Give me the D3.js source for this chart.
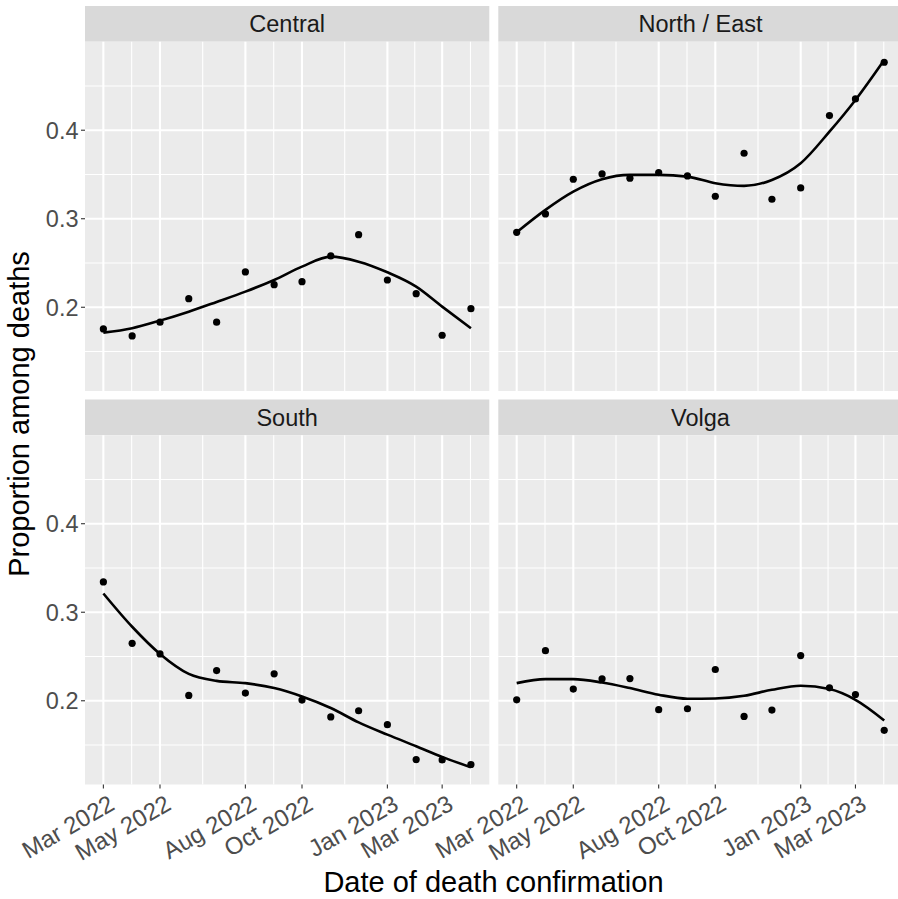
<!DOCTYPE html>
<html>
<head>
<meta charset="utf-8">
<script src="https://cdn.jsdelivr.net/npm/d3@7/dist/d3.min.js"></script>
<style>
  html, body { margin: 0; padding: 0; background: #ffffff; }
  svg { display: block; }
  text { font-family: "Liberation Sans", Arial, Helvetica, sans-serif; }
</style>
</head>
<body>
<svg id="chart" width="898" height="899"></svg>
<script>
// ---------------- DATA ----------------
const months = ["2022-03-01","2022-04-01","2022-05-01","2022-06-01","2022-07-01","2022-08-01","2022-09-01",
                "2022-10-01","2022-11-01","2022-12-01","2023-01-01","2023-02-01","2023-03-01","2023-04-01"];

const regions = ["Central", "North / East", "South", "Volga"];

const centralValues   = [0.1755,0.1676,0.1831,0.2097,0.1831,0.2399,0.2255,0.2289,0.2580,0.2820,0.2308,0.2154,0.1684,0.1984];
const northEastValues = [0.2847,0.3054,0.3446,0.3506,0.3458,0.3521,0.3484,0.3254,0.3740,0.3220,0.3348,0.4165,0.4354,0.4768];
const southValues     = [0.3343,0.2649,0.2529,0.2060,0.2341,0.2087,0.2304,0.2008,0.1817,0.1887,0.1730,0.1336,0.1332,0.1280];
const volgaValues     = [0.2011,0.2566,0.2132,0.2248,0.2251,0.1899,0.1910,0.2353,0.1823,0.1895,0.2510,0.2146,0.2071,0.1666];

// smoothed (loess) trend, one value per month
const centralSmooth   = [0.1713,0.1763,0.1849,0.1950,0.2060,0.2177,0.2308,0.2459,0.2572,0.2515,0.2395,0.2233,0.2007,0.1763];
const northEastSmooth = [0.2847,0.3100,0.3306,0.3446,0.3495,0.3495,0.3476,0.3401,0.3371,0.3438,0.3627,0.3984,0.4342,0.4794];
const southSmooth     = [0.3212,0.2836,0.2529,0.2304,0.2225,0.2199,0.2143,0.2048,0.1918,0.1756,0.1617,0.1486,0.1366,0.1249];
const volgaSmooth     = [0.2199,0.2244,0.2244,0.2206,0.2143,0.2068,0.2023,0.2026,0.2056,0.2124,0.2169,0.2132,0.2011,0.1778];

const xTickDates  = ["2022-03-01","2022-05-01","2022-08-01","2022-10-01","2023-01-01","2023-03-01"];
const xTickLabels = ["Mar 2022","May 2022","Aug 2022","Oct 2022","Jan 2023","Mar 2023"];
const xMinorDates = ["2022-03-31T12:00","2022-06-16","2022-08-31T12:00","2022-11-16","2023-01-30T12:00","2023-03-31T12:00"];

const yTicks      = [0.2, 0.3, 0.4];
const yTickLabels = ["0.2", "0.3", "0.4"];
const yMinor      = [0.15, 0.25, 0.35, 0.45];
const yLimits     = [0.1054, 0.5];

const xTitle = "Date of death confirmation";
const yTitle = "Proportion among deaths";

// ---------------- LAYOUT ----------------
const parse = s => new Date(s + (s.length === 10 ? "T00:00:00Z" : ":00Z"));
const dates = months.map(parse);

const panelW = 404.3, panelH = 349.3, stripH = 35.7;
const colX = [85, 498.3];
const rowY = [6, 399.5];   // strip tops

const series = [
  {name: regions[0], vals: centralValues,   smooth: centralSmooth,   col: 0, row: 0},
  {name: regions[1], vals: northEastValues, smooth: northEastSmooth, col: 1, row: 0},
  {name: regions[2], vals: southValues,     smooth: southSmooth,     col: 0, row: 1},
  {name: regions[3], vals: volgaValues,     smooth: volgaSmooth,     col: 1, row: 1}
];

// x domain with 5% expansion like ggplot
const t0 = d3.min(dates).getTime(), t1 = d3.max(dates).getTime();
const pad = (t1 - t0) * 0.05;
const x = d3.scaleUtc().domain([new Date(t0 - pad), new Date(t1 + pad)]).range([0, panelW]);
const y = d3.scaleLinear().domain(yLimits).range([panelH, 0]);

const svg = d3.select("#chart");
const tickFont = 23.5, titleFont = 29;

series.forEach(s => {
  const px = colX[s.col], sy = rowY[s.row], py = sy + stripH;
  // strip
  svg.append("rect").attr("x", px).attr("y", sy).attr("width", panelW).attr("height", stripH).attr("fill", "#D9D9D9");
  svg.append("text").attr("x", px + panelW / 2).attr("y", sy + stripH / 2).attr("dy", "0.36em")
    .attr("text-anchor", "middle").attr("font-size", tickFont).attr("fill", "#1A1A1A").text(s.name);

  const g = svg.append("g").attr("transform", `translate(${px},${py})`);
  g.append("rect").attr("width", panelW).attr("height", panelH).attr("fill", "#EBEBEB");

  // minor grid
  g.selectAll(".ymin").data(yMinor).enter().append("line")
    .attr("x1", 0).attr("x2", panelW).attr("y1", d => y(d)).attr("y2", d => y(d))
    .attr("stroke", "#ffffff").attr("stroke-width", 1.1);
  g.selectAll(".xmin").data(xMinorDates.map(parse)).enter().append("line")
    .attr("y1", 0).attr("y2", panelH).attr("x1", d => x(d)).attr("x2", d => x(d))
    .attr("stroke", "#ffffff").attr("stroke-width", 1.1);
  // major grid
  g.selectAll(".ymaj").data(yTicks).enter().append("line")
    .attr("x1", 0).attr("x2", panelW).attr("y1", d => y(d)).attr("y2", d => y(d))
    .attr("stroke", "#ffffff").attr("stroke-width", 2.1);
  g.selectAll(".xmaj").data(xTickDates.map(parse)).enter().append("line")
    .attr("y1", 0).attr("y2", panelH).attr("x1", d => x(d)).attr("x2", d => x(d))
    .attr("stroke", "#ffffff").attr("stroke-width", 2.1);

  // points
  g.selectAll(".pt").data(s.vals).enter().append("circle")
    .attr("cx", (d, i) => x(dates[i])).attr("cy", d => y(d)).attr("r", 3.6).attr("fill", "#000000");

  // smooth line
  const line = d3.line().x((d, i) => x(dates[i])).y(d => y(d)).curve(d3.curveMonotoneX);
  g.append("path").datum(s.smooth).attr("d", line)
    .attr("fill", "none").attr("stroke", "#000000").attr("stroke-width", 2.6)
    .attr("stroke-linejoin", "round").attr("stroke-linecap", "butt");

  // y axis on left column
  if (s.col === 0) {
    yTicks.forEach((v, i) => {
      svg.append("line").attr("x1", px - 4).attr("x2", px).attr("y1", py + y(v)).attr("y2", py + y(v))
        .attr("stroke", "#333333").attr("stroke-width", 1.1);
      svg.append("text").attr("x", px - 6.5).attr("y", py + y(v)).attr("dy", "0.36em")
        .attr("text-anchor", "end").attr("font-size", tickFont).attr("fill", "#4D4D4D").text(yTickLabels[i]);
    });
  }
  // x axis on bottom row
  if (s.row === 1) {
    const by = py + panelH;
    xTickDates.forEach((d, i) => {
      const tx = px + x(parse(d));
      svg.append("line").attr("x1", tx).attr("x2", tx).attr("y1", by).attr("y2", by + 4)
        .attr("stroke", "#333333").attr("stroke-width", 1.1);
      svg.append("text")
        .attr("transform", `translate(${tx + 4},${by + 9}) rotate(-30)`)
        .attr("dy", "0.72em").attr("text-anchor", "end")
        .attr("font-size", 24).attr("fill", "#4D4D4D").text(xTickLabels[i]);
    });
  }
});

// axis titles
svg.append("text").attr("x", 493.5).attr("y", 891.5).attr("text-anchor", "middle")
  .attr("font-size", titleFont).attr("fill", "#000000").text(xTitle);
svg.append("text").attr("transform", "translate(29,414) rotate(-90)").attr("text-anchor", "middle")
  .attr("font-size", titleFont).attr("fill", "#000000").text(yTitle);
</script>
</body>
</html>
